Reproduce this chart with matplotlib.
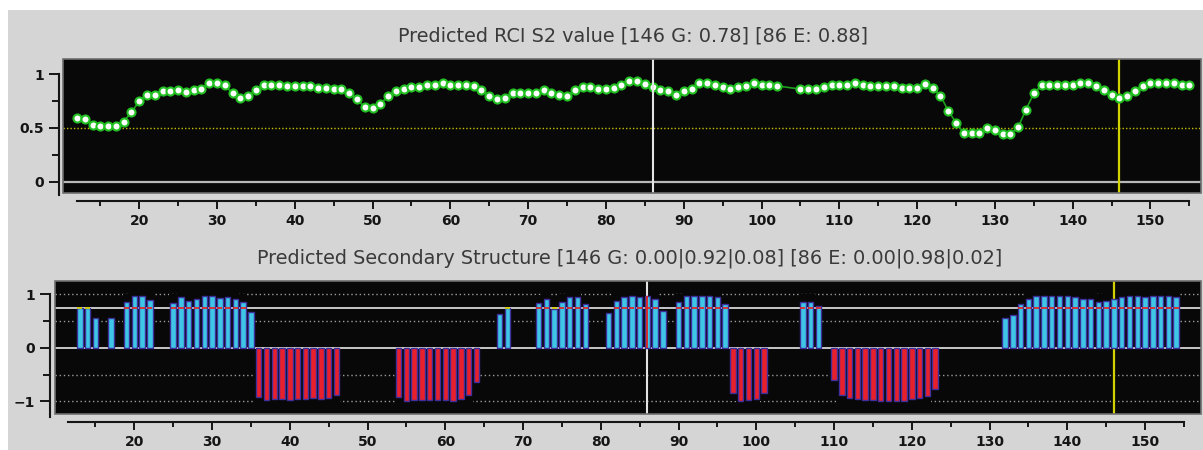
import numpy as np
import matplotlib
matplotlib.use('Agg')
import matplotlib.pyplot as plt
from matplotlib.patches import Rectangle

# residue numbering shared by both panels
residues = np.arange(12, 156)

# RCI order parameter per residue (103, 104 have no prediction)
s2_values = np.array([
    0.59, 0.58, 0.53, 0.52, 0.52, 0.52, 0.56, 0.645, 0.75, 0.81,      # 12-21
    0.81, 0.84, 0.84, 0.85, 0.83, 0.85, 0.86, 0.92, 0.92, 0.895,      # 22-31
    0.82, 0.78, 0.80, 0.85, 0.90, 0.90, 0.90, 0.89, 0.89, 0.89,       # 32-41
    0.89, 0.87, 0.875, 0.86, 0.86, 0.82, 0.765, 0.69, 0.685, 0.72,    # 42-51
    0.80, 0.84, 0.86, 0.88, 0.88, 0.895, 0.90, 0.92, 0.90, 0.90,      # 52-61
    0.90, 0.89, 0.85, 0.80, 0.765, 0.78, 0.82, 0.82, 0.82, 0.82,      # 62-71
    0.85, 0.82, 0.81, 0.795, 0.85, 0.88, 0.88, 0.86, 0.86, 0.875,     # 72-81
    0.90, 0.935, 0.935, 0.91, 0.88, 0.85, 0.84, 0.81, 0.84, 0.86,     # 82-91
    0.92, 0.92, 0.90, 0.88, 0.86, 0.88, 0.89, 0.92, 0.90, 0.90,       # 92-101
    0.89, np.nan, np.nan, 0.86, 0.86, 0.86, 0.88, 0.895, 0.90, 0.90,  # 102-111
    0.92, 0.90, 0.89, 0.89, 0.89, 0.89, 0.875, 0.875, 0.875, 0.905,   # 112-121
    0.875, 0.80, 0.66, 0.55, 0.455, 0.455, 0.455, 0.50, 0.48, 0.44,   # 122-131
    0.44, 0.51, 0.67, 0.82, 0.895, 0.90, 0.90, 0.90, 0.90, 0.92,      # 132-141
    0.92, 0.89, 0.85, 0.81, 0.78, 0.80, 0.84, 0.89, 0.92, 0.92,       # 142-151
    0.92, 0.92, 0.90, 0.90,                                           # 152-155
])

# strand probability (drawn upwards, cyan)
strand_prob = np.array([
    0, 0.74, 0.74, 0.555, 0, 0.555, 0, 0.86, 0.98, 0.97,              # 12-21
    0.90, 0, 0, 0.85, 0.95, 0.885, 0.92, 0.97, 0.97, 0.94,            # 22-31
    0.95, 0.92, 0.86, 0.67, 0, 0, 0, 0, 0, 0,                         # 32-41
    0, 0, 0, 0, 0, 0, 0, 0, 0, 0,                                     # 42-51
    0, 0, 0, 0, 0, 0, 0, 0, 0, 0,                                     # 52-61
    0, 0, 0, 0, 0, 0.63, 0.74, 0, 0, 0,                               # 62-71
    0.835, 0.915, 0.73, 0.865, 0.96, 0.96, 0.815, 0, 0, 0.65,         # 72-81
    0.885, 0.945, 0.97, 0.945, 0.98, 0.915, 0.70, 0, 0.865, 0.97,     # 82-91
    0.97, 0.97, 0.97, 0.945, 0.82, 0, 0, 0, 0, 0,                     # 92-101
    0, 0, 0, 0, 0.86, 0.86, 0.785, 0, 0, 0,                           # 102-111
    0, 0, 0, 0, 0, 0, 0, 0, 0, 0,                                     # 112-121
    0, 0, 0, 0, 0, 0, 0, 0, 0, 0,                                     # 122-131
    0.555, 0.62, 0.815, 0.915, 0.97, 0.97, 0.97, 0.97, 0.97, 0.945,   # 132-141
    0.91, 0.91, 0.86, 0.885, 0.92, 0.945, 0.97, 0.97, 0.945, 0.97,    # 142-151
    0.97, 0.97, 0.945, 0,                                             # 152-155
])

# helix probability (drawn downwards, red)
helix_prob = np.array([
    0, 0, 0, 0, 0, 0, 0, 0, 0, 0,                                     # 12-21
    0, 0, 0, 0, 0, 0, 0, 0, 0, 0,                                     # 22-31
    0, 0, 0, 0, 0.92, 0.97, 0.96, 0.96, 0.97, 0.96,                   # 32-41
    0.95, 0.94, 0.95, 0.935, 0.87, 0, 0, 0, 0, 0,                     # 42-51
    0, 0, 0.92, 0.985, 0.97, 0.97, 0.97, 0.97, 0.97, 0.985,           # 52-61
    0.96, 0.885, 0.635, 0, 0, 0, 0, 0, 0, 0,                          # 62-71
    0, 0, 0, 0, 0, 0, 0, 0, 0, 0,                                     # 72-81
    0, 0, 0, 0, 0, 0, 0, 0, 0, 0,                                     # 82-91
    0, 0, 0, 0, 0, 0.835, 1.0, 0.98, 0.96, 0.835,                     # 92-101
    0, 0, 0, 0, 0, 0, 0, 0, 0.59, 0.88,                               # 102-111
    0.94, 0.96, 0.97, 0.97, 0.985, 0.985, 0.985, 0.985, 0.96, 0.94,   # 112-121
    0.90, 0.76, 0, 0, 0, 0, 0, 0, 0, 0,                               # 122-131
    0, 0, 0, 0, 0, 0, 0, 0, 0, 0,                                     # 132-141
    0, 0, 0, 0, 0, 0, 0, 0, 0, 0,                                     # 142-151
    0, 0, 0, 0,                                                       # 152-155
])

cursor_res = 86
marker_res = 146
top_title = 'Predicted RCI S2 value [146 G: 0.78] [86 E: 0.88]'
bottom_title = ('Predicted Secondary Structure [146 G: 0.00|0.92|0.08] '
                '[86 E: 0.00|0.98|0.02]')

W, H = 1203, 450
PT = 72 / 100  # points per pixel
grey = '#d5d5d5'
black = '#080808'
ink = '#151515'


def px_box(left, top, right, bottom):
    return [left / W, 1 - bottom / H, (right - left) / W, (bottom - top) / H]


def style_axes(ax, x_span, y_low, left_off, yticks, ylabels, yminor):
    ax.set_facecolor(black)
    for side in ('top', 'right'):
        ax.spines[side].set_visible(False)
    for side in ('left', 'bottom'):
        ax.spines[side].set_color(ink)
        ax.spines[side].set_linewidth(1.5)
    ax.spines['left'].set_position(('outward', left_off * PT))
    ax.spines['left'].set_bounds(y_low, 1)
    ax.spines['bottom'].set_position(('outward', 8 * PT))
    ax.spines['bottom'].set_bounds(*x_span)

    ax.set_xticks(np.arange(20, 151, 10))
    ax.set_xticks(np.arange(15, 156, 10), minor=True)
    ax.set_yticks(yticks)
    ax.set_yticks(yminor, minor=True)
    ax.set_yticklabels(ylabels)
    ax.tick_params(axis='both', which='both', direction='out', color=ink,
                   width=1.4, labelsize=10, labelcolor=ink)
    ax.tick_params(axis='y', which='major', length=10 * PT, pad=5 * PT)
    ax.tick_params(axis='y', which='minor', length=7 * PT)
    ax.tick_params(axis='x', which='major', length=8 * PT, pad=5 * PT)
    ax.tick_params(axis='x', which='minor', length=5 * PT)
    for lbl in ax.get_xticklabels() + ax.get_yticklabels():
        lbl.set_fontweight('bold')

    # bevelled frame round the plotting area
    ax.add_patch(Rectangle((0, 0), 1, 1, transform=ax.transAxes, fill=False,
                           edgecolor='#6e6e6e', lw=1.2, clip_on=False, zorder=6))


fig = plt.figure(figsize=(W / 100, H / 100), dpi=100, facecolor='white')
fig.patches.append(Rectangle((8 / W, 0), 1, 440 / H, transform=fig.transFigure,
                             facecolor=grey, edgecolor='none', zorder=-1))

# ---- S2 panel
ax1 = fig.add_axes(px_box(63, 59, 1201, 193))
ax1.set_xlim(10.2, 156.5)
ax1.set_ylim(-0.102, 1.139)
style_axes(ax1, (12, 155), -0.12, 4, [0, 0.5, 1], ['0', '0.5', '1'], [0.25, 0.75])

ax1.axhline(0, color='#b8b8b8', lw=1.6, zorder=2)
ax1.axhline(0.5, color='#c8c000', lw=1.0, ls=(0, (1, 1.5)), zorder=2)
ax1.axvline(marker_res, color='#d2d200', lw=1.6, zorder=3)
ok = ~np.isnan(s2_values)
ax1.plot(residues[ok], s2_values[ok], color='#1e9e1e', lw=1.2, marker='o',
         ms=5.8, mfc='white', mec='#22c022', mew=1.5, zorder=4)
ax1.axvline(cursor_res, color='#e4e4e4', lw=1.5, zorder=5)

fig.text(633 / W, 1 - 36 / H, top_title, ha='center', va='center',
         fontsize=13.9, color='#3a3a3a')

# ---- secondary structure panel
ax2 = fig.add_axes(px_box(55, 281, 1201, 414))
ax2.set_xlim(9.8, 157.2)
ax2.set_ylim(-1.234, 1.252)
style_axes(ax2, (11.5, 155), -1.29, 5, [-1, 0, 1], ['\u22121', '0', '1'], [-0.5, 0.5])

for y in (1, 0.5, -0.5, -1):
    ax2.axhline(y, color='#9c9c9c', lw=1.0, ls=(0, (1, 2)), zorder=1)

sm = strand_prob > 0
hm = helix_prob > 0
# dark columns behind each bar hide the dotted guides
ax2.bar(residues[sm], strand_prob[sm] + 0.15, width=1.0, color=black, zorder=1.5)
ax2.bar(residues[hm], -(helix_prob[hm] + 0.15), width=1.0, color=black, zorder=1.5)

ax2.axhline(0, color='#c8c8c8', lw=1.4, zorder=2)
ax2.axhline(0.75, color='#c8c8c8', lw=1.4, zorder=2)
ax2.axvline(cursor_res, color='#e4e4e4', lw=1.5, zorder=2.5)
ax2.axvline(marker_res, color='#d2d200', lw=1.6, zorder=2.5)

ax2.bar(residues[sm], strand_prob[sm], width=0.7, color='#3fc6e6',
        edgecolor='#3d2f9c', lw=1.0, zorder=3)
ax2.bar(residues[hm], -helix_prob[hm], width=0.7, color='#e8202c',
        edgecolor='#3d2f9c', lw=1.0, zorder=3)

# threshold crossing marks on strand bars
cross = strand_prob >= 0.72
cross_res = residues[cross]
mark_cols = ['#e02828' if v > 0.76 else '#d8d000' for v in strand_prob[cross]]
ax2.hlines(np.full(len(cross_res), 0.75), cross_res - 0.33, cross_res + 0.33,
           colors=mark_cols, lw=1.3, zorder=4)
ax2.vlines(cursor_res, 0, strand_prob[residues == cursor_res][0],
           color='#e02020', lw=1.3, zorder=4)

fig.text(630 / W, 1 - 258 / H, bottom_title, ha='center', va='center',
         fontsize=13.9, color='#3a3a3a')

fig.savefig('out.png', dpi=100, facecolor=fig.get_facecolor())
